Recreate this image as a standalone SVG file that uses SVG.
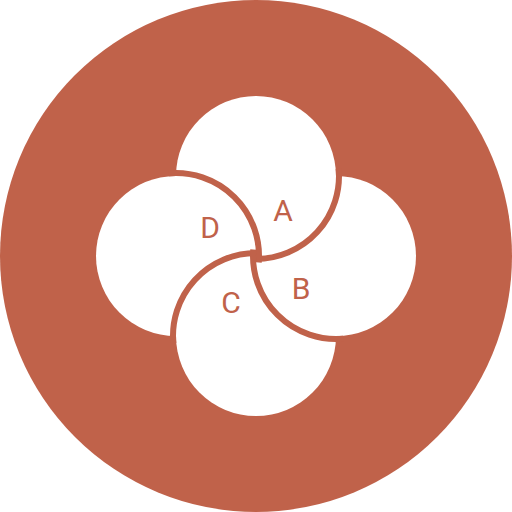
<svg xmlns="http://www.w3.org/2000/svg" width="512" height="512" viewBox="0 0 512 512">
  <style>
    .bg { fill: #C0624A; }
    .disc { fill: #FFFFFF; }
    .band { fill: none; stroke: #C0624A; stroke-width: 6; stroke-linecap: butt; }
    .label { font-family: Roboto, "Liberation Sans", sans-serif; font-size: 30px; fill: #C0624A; text-anchor: middle; }
  </style>
  <circle class="bg" cx="256" cy="256" r="256"/>
  <g id="node-a"><circle class="disc" cx="256" cy="176" r="80"/></g>
  <g id="node-b"><circle class="disc" cx="336" cy="256" r="80"/></g>
  <g id="node-c"><circle class="disc" cx="256" cy="336" r="80"/></g>
  <g id="node-d"><circle class="disc" cx="176" cy="256" r="80"/></g>
  <g id="connectors">
    <path class="band" d="M338.68,168.77 A83,83 0 0 1 256,259"/>
    <path class="band" d="M168.77,173.32 A83,83 0 0 1 258.74,262.51"/>
    <path class="band" d="M173.32,343.23 A83,83 0 0 1 256,253"/>
    <path class="band" d="M343.23,338.68 A83,83 0 0 1 253.26,249.49"/>
  </g>
  <g id="labels">
    <text id="label-a" class="label" x="283" y="221">A</text>
    <text id="label-b" class="label" x="301" y="299">B</text>
    <text id="label-c" class="label" x="231" y="313">C</text>
    <text id="label-d" class="label" x="210" y="238">D</text>
  </g>
</svg>
